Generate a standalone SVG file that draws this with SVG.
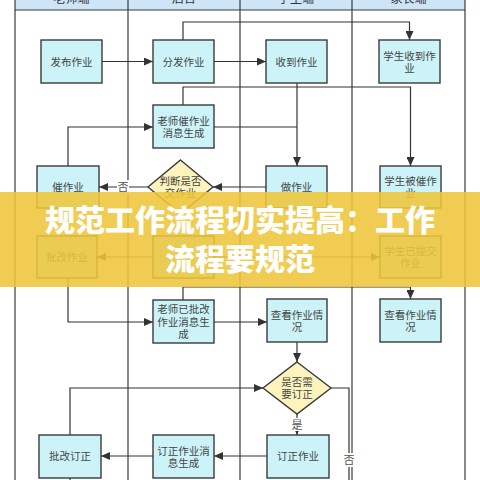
<svg xmlns="http://www.w3.org/2000/svg" width="480" height="480" viewBox="0 0 480 480">
<style>
.lane{stroke:#3a3a3a;stroke-width:1.2;fill:none}
.box{fill:#ccf4f8;stroke:#3a3a3a;stroke-width:1.4}
.dia{fill:#fdf3bd;stroke:#3a3a3a;stroke-width:1.4}
.t{font-family:"Noto Sans CJK SC","Noto Sans",sans-serif;font-size:10.5px;fill:#444;text-anchor:middle}
.h{font-family:"Noto Sans CJK SC","Noto Sans",sans-serif;font-size:12px;fill:#333;text-anchor:middle}
.c{stroke:#333;stroke-width:1.2;fill:none}
.ca{stroke:#333;stroke-width:1.2;fill:none;marker-end:url(#arr)}
.lbl{font-family:"Noto Sans CJK SC","Noto Sans",sans-serif;font-size:11px;fill:#555;text-anchor:middle}
.bt{font-family:"Noto Sans CJK SC","Noto Sans",sans-serif;font-size:30px;font-weight:900;fill:#fff;text-anchor:middle}
</style>
<defs>
<marker id="arr" markerUnits="userSpaceOnUse" markerWidth="10" markerHeight="8" refX="9" refY="4" orient="auto">
<path d="M0,0 L9,4 L0,8 Z" fill="#333"/>
</marker>
</defs>
<rect x="0" y="0" width="480" height="480" fill="#fff"/>
<g id="lanes">
<rect x="15" y="0" width="450" height="10" fill="#cde5f7"/>
<text class="h" x="71.5" y="2.5">老师端</text>
<text class="h" x="184" y="2.5">后台</text>
<text class="h" x="296" y="2.5">学生端</text>
<text class="h" x="408.5" y="2.5">家长端</text>
<line class="lane" x1="15" y1="10" x2="465" y2="10"/>
<line class="lane" x1="15" y1="0" x2="15" y2="480"/>
<line class="lane" x1="128" y1="0" x2="128" y2="480"/>
<line class="lane" x1="240" y1="0" x2="240" y2="480"/>
<line class="lane" x1="352" y1="0" x2="352" y2="480"/>
<line class="lane" x1="465" y1="0" x2="465" y2="480"/>
</g>
<g id="connectors">
<path class="ca" d="M102,61.5 H153"/>
<path class="ca" d="M214,61.5 H266"/>
<path class="ca" d="M183,40 V22 H409.5 V40"/>
<path class="ca" d="M183,105 V87 H410.5 V166"/>
<path class="c" d="M214,127 H297"/>
<path class="ca" d="M297,83 V166"/>
<path class="ca" d="M68,166 V127 H153"/>
<path class="ca" d="M266,187 H213"/>
<path class="ca" d="M148,187 H99"/>
<rect x="117" y="180" width="12" height="14" fill="#fff"/>
<text class="lbl" x="123" y="191">否</text>
<path class="ca" d="M153,257 H97"/>
<path class="ca" d="M214,257 H380"/>
<path class="ca" d="M68,278 V322 H153"/>
<path class="ca" d="M214,322 H267"/>
<path class="ca" d="M183,300 V287 H410.5 V299"/>
<path class="ca" d="M297,342 V362"/>
<path class="ca" d="M70,435 V388 H263"/>
<path class="ca" d="M297,414 V435"/>
<rect x="291" y="418" width="12" height="13" fill="#fff"/>
<text class="lbl" x="297" y="429">是</text>
<path class="c" d="M331,388 H349 V480"/>
<rect x="343" y="453" width="12" height="14" fill="#fff"/>
<text class="lbl" x="349" y="464">否</text>
<path class="ca" d="M267,456 H214"/>
<path class="ca" d="M153,456 H101"/>
<path class="c" d="M70,478 V480"/>
</g>
<g id="n1"><rect class="box" x="41" y="40" width="61" height="43"/><text class="t" x="71.5" y="65.5">发布作业</text></g>
<g id="n2"><rect class="box" x="153" y="40" width="61" height="43"/><text class="t" x="183.5" y="65.5">分发作业</text></g>
<g id="n3"><rect class="box" x="266" y="40" width="61" height="43"/><text class="t" x="296.5" y="65.5">收到作业</text></g>
<g id="n4"><rect class="box" x="379" y="40" width="61" height="43"/><text class="t" x="409.5" y="59.5">学生收到作</text><text class="t" x="409.5" y="72">业</text></g>
<g id="n5"><rect class="box" x="153" y="105" width="61" height="43"/><text class="t" x="183.5" y="124.5">老师催作业</text><text class="t" x="183.5" y="137">消息生成</text></g>
<g id="n6"><rect class="box" x="37" y="166" width="62" height="42"/><text class="t" x="68" y="191">催作业</text></g>
<g id="n7"><polygon class="dia" points="180.5,160 213,187 180.5,214 148,187"/><text class="t" x="180.5" y="184.5">判断是否</text><text class="t" x="180.5" y="197">交作业</text></g>
<g id="n8"><rect class="box" x="266" y="166" width="61" height="42"/><text class="t" x="296.5" y="191">做作业</text></g>
<g id="n9"><rect class="box" x="380" y="166" width="61" height="42"/><text class="t" x="410.5" y="184.5">学生被催作</text><text class="t" x="410.5" y="197">业</text></g>
<g id="n10"><rect class="box" x="37" y="236" width="60" height="42"/><text class="t" x="67" y="261">批改作业</text></g>
<g id="n11"><rect class="box" x="153" y="236" width="61" height="42"/></g>
<g id="n12"><rect class="box" x="380" y="236" width="61" height="42"/><text class="t" x="410.5" y="254.5">学生已提交</text><text class="t" x="410.5" y="267">作业</text></g>
<g id="n13"><rect class="box" x="153" y="300" width="61" height="43"/><text class="t" x="183.5" y="313">老师已批改</text><text class="t" x="183.5" y="325.5">作业消息生</text><text class="t" x="183.5" y="338">成</text></g>
<g id="n14"><rect class="box" x="267" y="299" width="60" height="43"/><text class="t" x="297" y="318.5">查看作业情</text><text class="t" x="297" y="331">况</text></g>
<g id="n15"><rect class="box" x="380" y="299" width="61" height="43"/><text class="t" x="410.5" y="318.5">查看作业情</text><text class="t" x="410.5" y="331">况</text></g>
<g id="n16"><polygon class="dia" points="297,362 331,388 297,414 263,388"/><text class="t" x="297" y="385.5">是否需</text><text class="t" x="297" y="398">要订正</text></g>
<g id="n17"><rect class="box" x="267" y="435" width="62" height="43"/><text class="t" x="298" y="460">订正作业</text></g>
<g id="n18"><rect class="box" x="153" y="435" width="61" height="43"/><text class="t" x="183.5" y="454.5">订正作业消</text><text class="t" x="183.5" y="467">息生成</text></g>
<g id="n19"><rect class="box" x="39" y="435" width="62" height="43"/><text class="t" x="70" y="460">批改订正</text></g>
<g id="banner">
<rect x="0" y="192" width="480" height="95" fill="#eec63a" fill-opacity="0.88"/>
<text class="bt" x="240" y="231">规范工作流程切实提高：工作</text>
<text class="bt" x="240" y="270">流程要规范</text>
</g>
</svg>
